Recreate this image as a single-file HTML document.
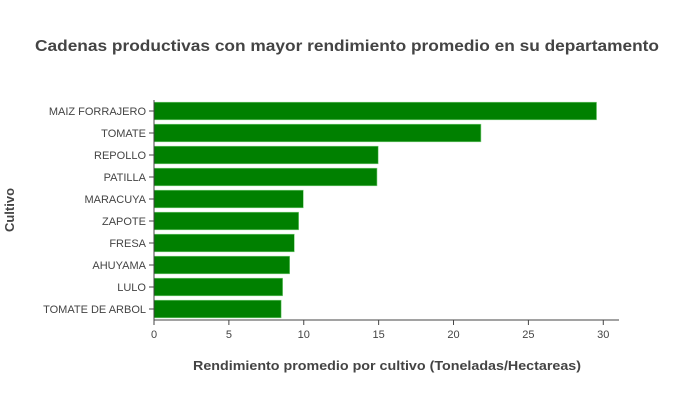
<!DOCTYPE html>
<html><head><meta charset="utf-8"><style>
body{margin:0;background:#fff;}
svg{font-family:"Liberation Sans",sans-serif;display:block;}
</style></head><body>
<svg id="chart" width="700" height="400">
<text x="347" y="51" text-anchor="middle" font-size="16" font-weight="bold" fill="#444" textLength="624" lengthAdjust="spacingAndGlyphs">Cadenas productivas con mayor rendimiento promedio en su departamento</text>
<text x="387" y="370" text-anchor="middle" font-size="13" font-weight="bold" fill="#444" textLength="388" lengthAdjust="spacingAndGlyphs">Rendimiento promedio por cultivo (Toneladas/Hectareas)</text>
<text transform="translate(14,210) rotate(-90)" text-anchor="middle" font-size="13" font-weight="bold" fill="#444">Cultivo</text>
<g id="bars"></g><g id="axes"></g>
</svg>
<script>
const categories = ["MAIZ FORRAJERO","TOMATE","REPOLLO","PATILLA","MARACUYA","ZAPOTE","FRESA","AHUYAMA","LULO","TOMATE DE ARBOL"];
const values = [29.55,21.83,14.97,14.89,9.97,9.66,9.37,9.06,8.59,8.49];
const xTicks = [0,5,10,15,20,25,30];
const NS="http://www.w3.org/2000/svg";
const x0=154, x1=619, xMax=31.05, y0=100, y1=320;
const xs=v=>x0+(v/xMax)*(x1-x0);
const band=(y1-y0)/categories.length;
const yb=i=>y0+i*band;
function mk(t,a,p){const e=document.createElementNS(NS,t);for(const k in a)e.setAttribute(k,a[k]);p.appendChild(e);return e;}
const bars=document.getElementById('bars'), axes=document.getElementById('axes');
categories.forEach((c,i)=>{
  const r=mk('rect',{x:xs(0),y:yb(i)+band*0.1,width:xs(values[i])-xs(0),height:band*0.8,fill:'#008000',stroke:'#7fd07f','stroke-width':0.6},bars);
  
  
  const t=mk('text',{x:x0-8,y:yb(i)+band/2+4,'text-anchor':'end','font-size':11,fill:'#444'},axes);
  t.textContent=c;
  
  
  mk('line',{x1:x0-5,x2:x0,y1:yb(i)+band/2,y2:yb(i)+band/2,stroke:'#444'},axes);
});
xTicks.forEach(v=>{
  mk('line',{x1:xs(v),x2:xs(v),y1:y1,y2:y1+5,stroke:'#444'},axes);
  const t=mk('text',{x:xs(v),y:y1+18,'text-anchor':'middle','font-size':11,fill:'#444'},axes);
  t.textContent=v;
  
  
});
const ya=mk('line',{x1:x0,x2:x0,y1:y0,y2:y1,stroke:'#444'},axes);


const xa=mk('line',{x1:x0,x2:x1,y1:y1,y2:y1,stroke:'#444'},axes);


</script>
</body></html>
